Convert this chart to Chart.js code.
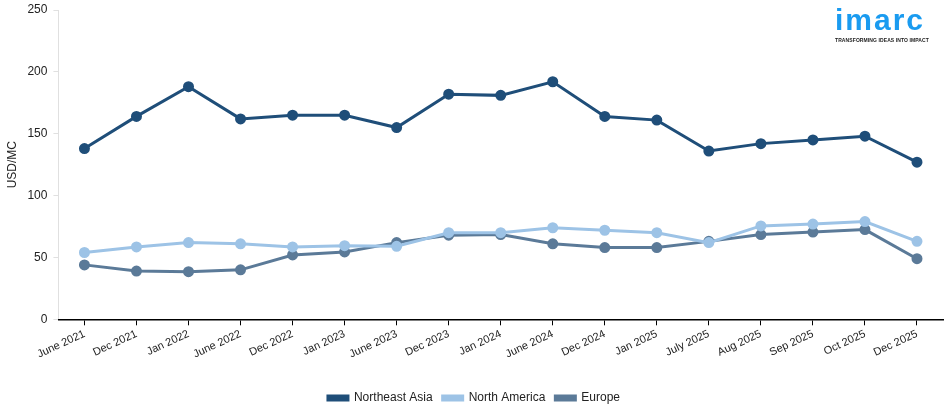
<!DOCTYPE html>
<html>
<head>
<meta charset="utf-8">
<script src="https://cdn.jsdelivr.net/npm/chart.js@4/dist/chart.umd.min.js"></script>
<style>
  html, body { margin: 0; padding: 0; background: #fff; }
  #wrap { position: relative; width: 950px; height: 414px; }
  .logo { position: absolute; left: 835px; top: 5px; font-family: "Liberation Sans", Arial, sans-serif; color: #1a9bf0; }
  .logo .name { font-size: 30px; font-weight: bold; letter-spacing: 2px; line-height: 30px; }
  .logo .tag { font-size: 5px; font-weight: bold; color: #222; letter-spacing: 0.1px; white-space: nowrap; margin-top: 2px; }
</style>
</head>
<body>
<div id="wrap">
  <canvas id="c" width="950" height="414"></canvas>
  <div class="logo"><div class="name">imarc</div><div class="tag">TRANSFORMING IDEAS INTO IMPACT</div></div>
</div>
<script>
const labels = ["June 2021", "Dec 2021", "Jan 2022", "June 2022", "Dec 2022", "Jan 2023", "June 2023", "Dec 2023", "Jan 2024", "June 2024", "Dec 2024", "Jan 2025", "July 2025", "Aug 2025", "Sep 2025", "Oct 2025", "Dec 2025"]
const northeastAsia = [138, 164, 188, 162, 165, 165, 155, 182, 181, 192, 164, 161, 136, 142, 145, 148, 127]
const northAmerica = [54, 58.5, 62, 61, 58.5, 59.5, 59, 70, 70, 74, 72, 70, 62, 75.5, 77, 79, 63]
const europe = [44, 39, 38.5, 40, 52, 54.5, 62, 68, 68.5, 61, 58, 58, 63, 68.5, 70.5, 72.5, 49]
const yTicks = [0, 50, 100, 150, 200, 250]

const font = "'Liberation Sans', Arial, sans-serif"

function series(label, data, color) {
  return {
    label,
    data,
    borderColor: color,
    backgroundColor: color,
    pointBackgroundColor: color,
    pointBorderColor: color,
    pointRadius: 4,
    pointHoverRadius: 4,
    borderWidth: 3,
    tension: 0
  }
}

new Chart(document.getElementById("c"), {
  type: "line",
  data: {
    labels,
    datasets: [
      series("Northeast Asia", northeastAsia, "#1f4e79"),
      series("North America", northAmerica, "#9dc3e6"),
      series("Europe", europe, "#5b7a98")
    ]
  },
  options: {
    responsive: false,
    animation: false,
    layout: { padding: { left: 3, right: 5, top: 0, bottom: 0 } },
    plugins: {
      legend: {
        position: "bottom",
        labels: {
          font: { family: font, size: 12 },
          color: "#222",
          boxWidth: 20,
          boxHeight: 4,
          padding: 10
        }
      },
      tooltip: { enabled: false }
    },
    scales: {
      y: {
        min: 0,
        max: 250,
        afterBuildTicks(axis) { axis.ticks = yTicks.map(v => ({ value: v })) },
        afterFit(axis) { axis.paddingTop = 10 },
        title: { display: true, text: "USD/MC", font: { family: font, size: 12 }, color: "#222", padding: 2 },
        border: { color: "#e0e0e0" },
        grid: { drawOnChartArea: false, color: "#e0e0e0", tickLength: 5 },
        ticks: { font: { family: font, size: 12 }, color: "#222", padding: 6 }
      },
      x: {
        offset: true,
        afterFit(axis) { axis.height += 19 },
        border: { color: "#000", width: 1.5 },
        grid: { drawOnChartArea: false, offset: false, color: "#000", tickLength: 6 },
        ticks: { font: { family: font, size: 11 }, color: "#222", maxRotation: 25, minRotation: 25, padding: 2, autoSkip: false }
      }
    }
  }
})
</script>
</body>
</html>
